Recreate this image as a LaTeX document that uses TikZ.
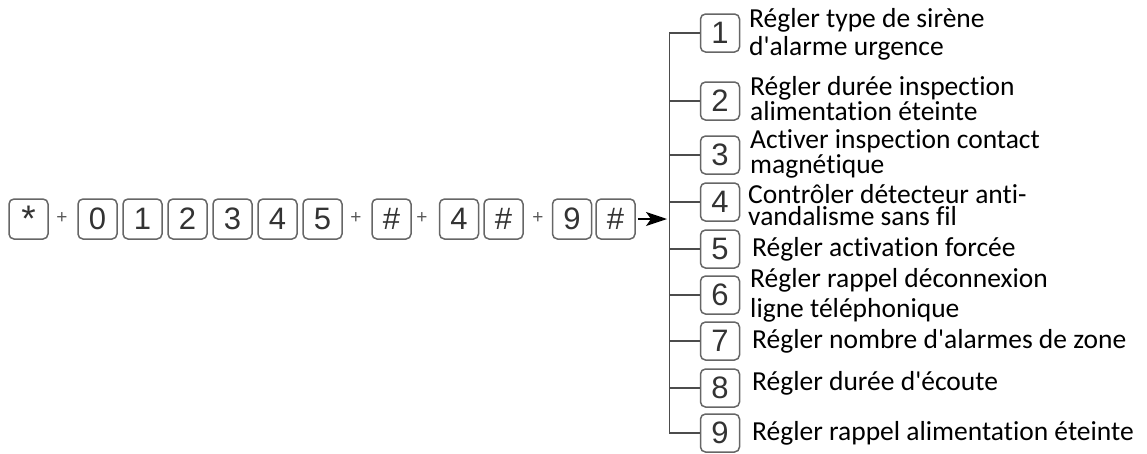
\documentclass[tikz,border=0pt]{standalone}
\usepackage{fontspec}
\setmainfont{Carlito}[Ligatures={NoCommon}]
\newfontfamily\keyfont{Liberation Sans}
\usetikzlibrary{arrows.meta}
\begin{document}
\begin{tikzpicture}[x=1pt,y=-1pt,
  key/.style={draw=black!60,line width=1.5pt,rounded corners=5pt,minimum width=39pt,minimum height=40pt,inner sep=0pt,
    font=\keyfont\fontsize{31}{31}\selectfont,text=black!80},
  plus/.style={font=\keyfont\fontsize{19}{19}\selectfont,text=black!65,inner sep=0pt},
  tree/.style={draw=black!70,line width=1.3pt},
  lbl/.style={anchor=base west,align=left,inner sep=0pt}]
\useasboundingbox (0,0) rectangle (1147,453);
% key sequence
\foreach \i/\x/\v in {1/28.5/{\fontsize{37}{37}\selectfont\raisebox{-.3em}{*}},2/97.5/0,3/142.5/1,4/187.5/2,5/232.5/3,6/277.5/4,7/322.5/5,
  8/391.5/\#,9/459/4,10/503.5/\#,11/572/9,12/615.5/\#}{
  \node[key] (k\i) at (\x,219) {\v};
}
\foreach \j/\x in {1/62,2/356,3/422,4/538}
  \node[plus] (p\j) at (\x,218) {+};
\coordinate (tip) at (667,219);
\draw[-{Stealth[length=21pt,width=14pt,inset=5pt]},line width=1.4pt,shorten <=2pt] (k12.east) -- (tip);
% option boxes
\foreach \i/\y in {1/33,2/101,3/155,4/202,5/249,6/295,7/341,8/388,9/433}
  \node[key,minimum height=38pt] (o\i) at (720,\y) {\i};
\draw[tree] (o1.west) -- ++(-30,0) |- (o9.west);
\foreach \i in {2,...,8}
  \draw[tree] (o\i.west) -- ++(-30,0);
% option texts (y = baseline of the last line)
\foreach \i/\x/\y/\ls/\t in {
  1/749/55/28/{Régler type de sirène\\d\textquotesingle alarme urgence},
  2/750/120/23/{Régler durée inspection\\alimentation éteinte},
  3/750/173/21/{Activer inspection contact\\magnétique},
  4/748/225/22/{Contrôler détecteur anti-\\vandalisme sans fil},
  5/752/256/25/{Régler activation forcée},
  6/750/317/30/{Régler rappel déconnexion\\ligne téléphonique},
  7/752/348/25/{Régler nombre d\textquotesingle alarmes de zone},
  8/752/390/25/{Régler durée d\textquotesingle écoute},
  9/752/440/25/{Régler rappel alimentation éteinte}}
  \node[lbl,font=\fontsize{27.5}{\ls}\selectfont] (t\i) at (\x,\y) {\t};
\end{tikzpicture}
\end{document}
